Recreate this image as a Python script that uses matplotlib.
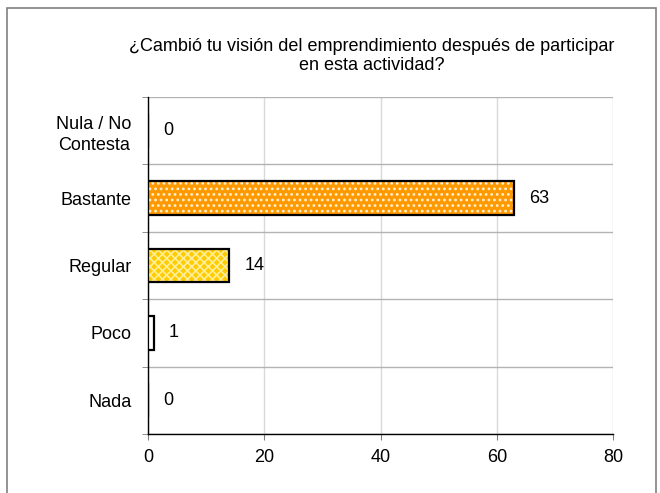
import matplotlib.pyplot as plt
import numpy as np
from matplotlib.patches import Rectangle

plt.rcParams["font.family"] = ["Liberation Sans", "DejaVu Sans"]
plt.rcParams["hatch.linewidth"] = 1.2

categories = ["Nada", "Poco", "Regular", "Bastante", "Nula / No\nContesta"]
values = [0, 1, 14, 63, 0]
fill_colors = ["white", "white", "#FFCC00", "#FF9900", "white"]
hatch_colors = ["white", "white", "#FFEE99", "#FFF0D0", "white"]
hatches = [None, None, "xxxx", "...", None]
x_ticks = [0, 20, 40, 60, 80]

fig = plt.figure(figsize=(6.6, 4.93), dpi=100)
ax = fig.add_axes([148 / 660, 1 - 434 / 493, 465 / 660, 337 / 493])

y = np.arange(len(categories))
h = 0.5
# fill + hatch, then black outline on top
for yi, v, fc, hc, ht in zip(y, values, fill_colors, hatch_colors, hatches):
    ax.barh(yi, v, h, color=fc, edgecolor=hc, linewidth=0, hatch=ht, zorder=3)
ax.barh(y, values, h, color="none", edgecolor="black", linewidth=1.6, zorder=4)

for yi, v in zip(y, values):
    ax.text(v + 2.6, yi, str(v), va="center", ha="left", fontsize=13)

ax.set_xlim(0, 80)
ax.set_ylim(-0.5, len(categories) - 0.5)
ax.set_xticks(x_ticks)
ax.set_yticks(y)
ax.set_yticklabels(categories, fontsize=13, multialignment="center", linespacing=1.3)
ax.set_yticks(np.arange(-0.5, len(categories)), minor=True)
ax.tick_params(axis="y", which="major", length=0, pad=12)
ax.tick_params(axis="y", which="minor", length=4, direction="out", color="#808080")
ax.tick_params(axis="x", length=4, direction="out", color="#808080", labelsize=13, pad=7)

ax.grid(axis="x", which="major", color="#D9D9D9", linewidth=1, zorder=0)
ax.grid(axis="y", which="minor", color="#B3B3B3", linewidth=1, zorder=0)
for side in ["top", "right"]:
    ax.spines[side].set_visible(False)
for side in ["left", "bottom"]:
    ax.spines[side].set_color("black")
    ax.spines[side].set_linewidth(1)

fig.text(372 / 660, 1 - 56 / 493,
         "¿Cambió tu visión del emprendimiento después de participar\nen esta actividad?",
         ha="center", va="center", fontsize=13, linespacing=1.15)

fig.patches.append(Rectangle((7 / 660, -0.05), (656 - 7) / 660, 1.05 - 8 / 493,
                             transform=fig.transFigure, fill=False,
                             edgecolor="#808080", linewidth=1.2, clip_on=False))

plt.savefig("out.png", dpi=100)
plt.close()
